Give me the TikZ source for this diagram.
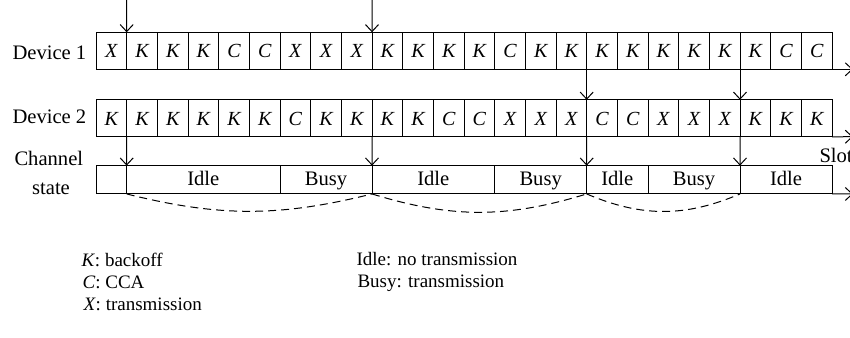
\documentclass[tikz,border=0pt]{standalone}
\usepackage{fontspec}
\setmainfont{Liberation Serif}
\usetikzlibrary{arrows.meta}
\tikzset{
  cell/.style={draw, minimum width=15.33pt, minimum height=18.5pt, inner sep=0pt, outer sep=0pt, font=\itshape,
    text height=1.5ex, text depth=0pt},
  chan/.style={draw, minimum height=14.15pt, inner sep=0pt, outer sep=0pt, text height=1.6ex, text depth=.3ex},
  tick/.style={-{Straight Barb[length=3.5pt,width=6.5pt]}},
  lbl/.style={anchor=base west, inner sep=0pt},
  arc/.style={dash pattern=on 4pt off 2.5pt},
}
\begin{document}
\begin{tikzpicture}[x=0.5pt,y=-0.5pt,line width=0.5pt,font=\fontsize{10.3}{12}\selectfont]
\useasboundingbox (0,0) rectangle (850,337);
%
\node[lbl] (dev1) at (12,59) {Device 1};
\foreach \s [count=\i] in {X,K,K,K,C,C,X,X,X,K,K,K,K,C,K,K,K,K,K,K,K,K,C,C}
  \node[cell] (a\i) at (80.667+30.667*\i,50.8) {\s};
%
\node[lbl] (dev2) at (12,123) {Device 2};
\foreach \s [count=\i] in {K,K,K,K,K,K,C,K,K,K,K,C,C,X,X,X,C,C,X,X,X,K,K,K}
  \node[cell] (b\i) at (80.667+30.667*\i,118.3) {\s};
%
\node[lbl] (chl) at (14,165) {Channel};
\node[anchor=base, inner sep=0pt] (chs) at (51,194) {state};
\node[chan, minimum width=15.33pt] (c0) at (111.33,179.8) {};
\node[chan, minimum width=76.67pt] (c1) at (203.33,179.8) {Idle};
\node[chan, minimum width=46pt] (c2) at (326,179.8) {Busy};
\node[chan, minimum width=61.33pt] (c3) at (433.33,179.8) {Idle};
\node[chan, minimum width=46pt] (c4) at (540.67,179.8) {Busy};
\node[chan, minimum width=30.67pt] (c5) at (617.33,179.8) {Idle};
\node[chan, minimum width=46pt] (c6) at (694,179.8) {Busy};
\node[chan, minimum width=46pt] (c7) at (786,179.8) {Idle};
\node[lbl] (slot) at (819,162) {Slot};
%
\coordinate (t1) at (126.67,0);
\coordinate (t9) at (372,0);
\coordinate (e1) at (853,69.3);
\coordinate (e2) at (853,136.7);
\coordinate (e3) at (853,194);
%
\draw[tick] (t1) -- (a1.north east);
\draw[tick] (t9) -- (a9.north east);
\draw[tick] (a16.south east) -- (b16.north east);
\draw[tick] (a21.south east) -- (b21.north east);
\draw[tick] (b1.south east) -- (c0.north east);
\draw[tick] (b9.south east) -- (c2.north east);
\draw[tick] (b16.south east) -- (c4.north east);
\draw[tick] (b21.south east) -- (c6.north east);
%
\draw[tick] (a24.south east) -- (e1);
\draw[tick] (b24.south east) -- (e2);
\draw[tick] (c7.south east) -- (e3);
%
\draw[arc] (c0.south east) to[bend right=14] (c2.south east);
\draw[arc] (c2.south east) to[bend right=17] (c4.south east);
\draw[arc] (c4.south east) to[bend right=23] (c6.south east);
%
\begin{scope}[font=\fontsize{9.5}{11}\selectfont]
\node[lbl] (lk) at (81,266) {\textit{K}: backoff};
\node[lbl] (lc) at (82,288) {\textit{C}: CCA};
\node[lbl] (lx) at (83,310) {\textit{X}: transmission};
\node[lbl] (li) at (356,265) {Idle: no transmission};
\node[lbl] (lb) at (357,287) {Busy: transmission};
\end{scope}
%
\end{tikzpicture}
\end{document}
